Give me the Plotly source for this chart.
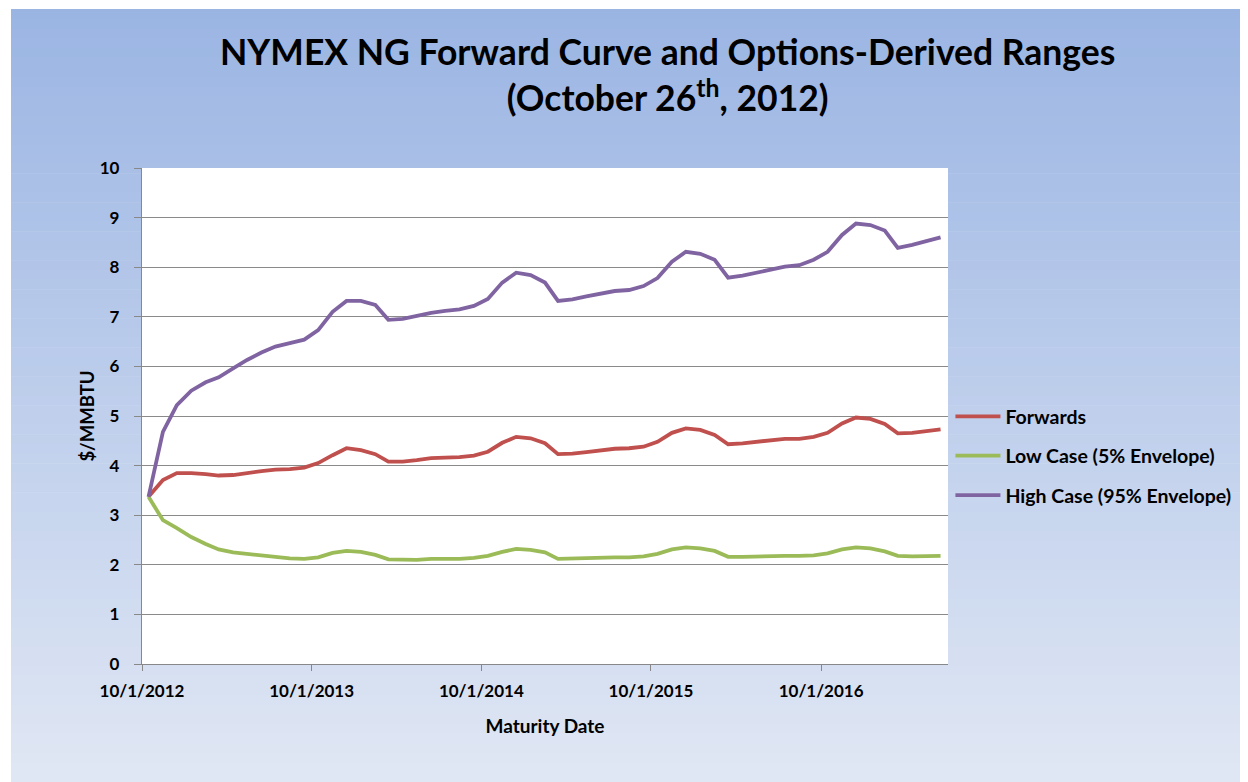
import plotly.graph_objects as go
import pandas as pd

# Monthly maturities Oct 2012 .. Jun 2017 (plotted at mid-month)
months = pd.date_range("2012-10-01", "2017-06-01", freq="MS")
dates = [m + pd.Timedelta(days=14) for m in months]

forwards = [3.37, 3.71, 3.85, 3.85, 3.83, 3.80, 3.81, 3.84, 3.89, 3.92,
            3.93, 3.96, 4.05, 4.21, 4.35, 4.31, 4.23, 4.08, 4.08, 4.11,
            4.15, 4.16, 4.17, 4.20, 4.28, 4.46, 4.58, 4.55, 4.45, 4.23,
            4.24, 4.27, 4.31, 4.34, 4.35, 4.38, 4.48, 4.66, 4.75, 4.72,
            4.62, 4.43, 4.45, 4.48, 4.52, 4.54, 4.54, 4.58, 4.66, 4.85,
            4.97, 4.94, 4.84, 4.65, 4.66, 4.69, 4.73]

low_case = [3.37, 2.90, 2.74, 2.56, 2.42, 2.31, 2.25, 2.22, 2.19, 2.16,
            2.13, 2.12, 2.15, 2.24, 2.28, 2.26, 2.20, 2.11, 2.10, 2.10,
            2.12, 2.12, 2.12, 2.14, 2.18, 2.26, 2.32, 2.30, 2.25, 2.12,
            2.13, 2.14, 2.15, 2.15, 2.15, 2.17, 2.22, 2.31, 2.35, 2.33,
            2.28, 2.16, 2.16, 2.17, 2.18, 2.18, 2.18, 2.19, 2.23, 2.31,
            2.35, 2.33, 2.27, 2.18, 2.17, 2.18, 2.18]

high_case = [3.37, 4.68, 5.22, 5.51, 5.68, 5.78, 5.96, 6.13, 6.28, 6.40,
             6.47, 6.54, 6.73, 7.10, 7.32, 7.32, 7.24, 6.94, 6.96, 7.02,
             7.08, 7.12, 7.15, 7.22, 7.36, 7.69, 7.89, 7.84, 7.69, 7.32,
             7.35, 7.41, 7.47, 7.52, 7.54, 7.62, 7.78, 8.11, 8.31, 8.27,
             8.15, 7.79, 7.83, 7.89, 7.96, 8.01, 8.04, 8.15, 8.31, 8.65,
             8.88, 8.85, 8.74, 8.39, 8.45, 8.52, 8.60]

x_tick_vals = ["2012-10-01", "2013-10-01", "2014-10-01", "2015-10-01", "2016-10-01"]
x_tick_text = ["10/1/2012", "10/1/2013", "10/1/2014", "10/1/2015", "10/1/2016"]
y_ticks = list(range(0, 11))

FONT = "Lato, 'Open Sans', sans-serif"

fig = go.Figure()
series = [("Forwards", forwards, "#C0504D"),
          ("Low Case (5% Envelope)", low_case, "#9BBB59"),
          ("High Case (95% Envelope)", high_case, "#8064A2")]
for name, vals, col in series:
    fig.add_trace(go.Scatter(x=dates, y=vals, mode="lines", name=name,
                             legendgroup=name,
                             line=dict(color=col, width=3.8)))

# Page has an 8px body margin; figure is sized to fit the window.
W, H = 1240, 774
L, T, R, B = 134, 160, 300, 118
pw, ph = W - L - R, H - T - B

# Background gradient panel
shapes = []
top_c = (155, 181, 227)
bot_c = (224, 231, 244)
n = 80
y_start, y_end = 1, H
x_start = 3
for i in range(n):
    f = i / (n - 1)
    c = tuple(int(round(top_c[k] + (bot_c[k] - top_c[k]) * f)) for k in range(3))
    y0p = y_start + (y_end - y_start) * i / n
    y1p = y_start + (y_end - y_start) * (i + 1) / n + 0.6
    shapes.append(dict(type="rect", xref="paper", yref="paper", layer="below",
                       x0=(x_start - L) / pw, x1=(W - L) / pw,
                       y0=(H - B - y1p) / ph, y1=(H - B - y0p) / ph,
                       line=dict(width=0), fillcolor="rgb(%d,%d,%d)" % c))
shapes.append(dict(type="rect", xref="paper", yref="paper", layer="below",
                   x0=0, x1=1, y0=0, y1=1, line=dict(width=0), fillcolor="white"))

bold = lambda s: dict(family=FONT, size=s, color="black", weight="bold")

fig.update_layout(
    width=W, height=H,
    margin=dict(l=L, r=R, t=T, b=B),
    paper_bgcolor="white",
    plot_bgcolor="rgba(0,0,0,0)",
    shapes=shapes,
    font=bold(17),
    title=dict(text="NYMEX NG Forward Curve and Options-Derived Ranges<br>(October 26<sup>th</sup>, 2012)",
               x=0.532, xanchor="center", y=0.926, yanchor="middle",
               font=bold(35.5)),
    legend=dict(x=1.003, xanchor="left", y=0.419, yanchor="middle",
                bgcolor="rgba(0,0,0,0)", font=bold(19.5),
                tracegroupgap=11, itemwidth=45),
    xaxis=dict(type="date", range=["2012-10-01", "2017-07-01"],
               tickvals=x_tick_vals, ticktext=x_tick_text,
               tickfont=bold(17),
               ticks="outside", ticklen=6, tickcolor="#888888", tickwidth=1.3,
               showline=True, linecolor="#888888", linewidth=1.3,
               showgrid=False, zeroline=False, ticklabelstandoff=5,
               title=dict(text="Maturity Date", standoff=20, font=bold(19))),
    yaxis=dict(range=[0, 10], tickvals=y_ticks,
               tickfont=bold(17),
               ticks="outside", ticklen=7, tickcolor="#888888", tickwidth=1.3,
               showline=True, linecolor="#888888", linewidth=1.3,
               showgrid=True, gridcolor="#8a8a8a", gridwidth=1.3,
               zeroline=False, ticklabelstandoff=11,
               title=dict(text="$/MMBTU", standoff=0, font=bold(18.5))),
)

fig.write_html("out.html")
